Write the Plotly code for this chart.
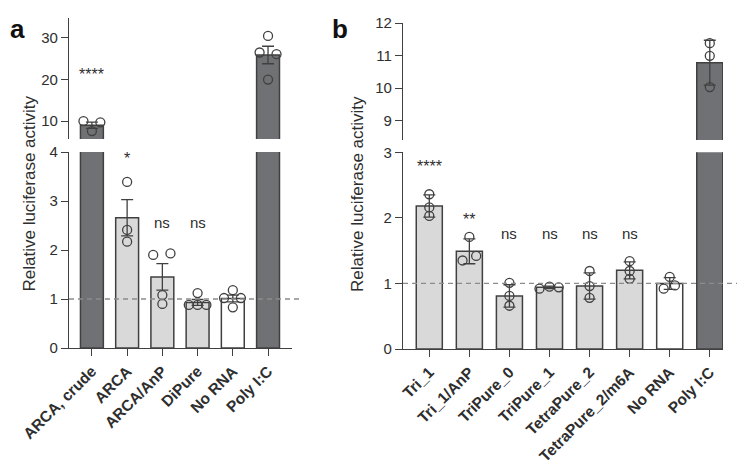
import plotly.graph_objects as go

# ---------------- data ----------------
a_labels = ["ARCA, crude", "ARCA", "ARCA/AnP", "DiPure", "No RNA", "Poly I:C"]
a_means = [9.0, 2.66, 1.45, 0.93, 1.01, 25.9]
a_err = [0.75, 0.37, 0.27, 0.06, 0.07, 2.1]
a_points = [[10.0, 7.6, 9.7], [3.39, 2.41, 2.17], [1.9, 1.93, 1.08, 0.9],
            [0.88, 0.88, 0.88, 1.12], [1.02, 1.02, 1.18, 0.83], [30.5, 26.5, 26.1, 20.0]]
a_jitter = [[-0.24, 0, 0.24], [0, 0, 0], [-0.26, 0.23, 0, 0],
            [-0.25, 0, 0.25, 0], [-0.25, 0.23, 0, 0], [0, -0.24, 0.24, 0]]
a_sig = ["****", "*", "ns", "ns", "", ""]
a_sig_y = [22.1, 3.94, 2.55, 2.55, None, None]

b_labels = ["Tri_1", "Tri_1/AnP", "TriPure_0", "TriPure_1", "TetraPure_2",
            "TetraPure_2/m6A", "No RNA", "Poly I:C"]
b_means = [2.18, 1.49, 0.81, 0.94, 0.96, 1.2, 1.0, 10.78]
b_err = [0.17, 0.19, 0.17, 0.02, 0.2, 0.13, 0.09, 0.69]
b_points = [[2.36, 2.16, 2.03], [1.71, 1.35, 1.42], [1.01, 0.81, 0.66], [0.92, 0.95, 0.94],
            [1.19, 0.96, 0.78], [1.34, 1.19, 1.07], [1.10, 0.92, 0.97], [11.38, 10.99, 10.03]]
b_jitter = [[0, 0, 0], [0, -0.17, 0.17], [0, 0, 0], [-0.25, 0, 0.23],
            [0, 0, 0], [0, 0, 0], [0, -0.15, 0.13], [0, 0, 0]]
b_sig = ["****", "**", "ns", "ns", "ns", "ns", "", ""]
b_sig_y = [2.85, 2.03, 1.75, 1.75, 1.75, 1.75, None, None]

DARK = "#707174"
LIGHT = "#d9d9d9"
WHITE = "#ffffff"
a_colors = [DARK, LIGHT, LIGHT, LIGHT, WHITE, DARK]
b_colors = [LIGHT] * 6 + [WHITE, DARK]

LINE = "#404040"
TXT = "#2e2e2e"
FONT = "Liberation Sans, Arial, sans-serif"

fig = go.Figure()


def add_panel(labels, means, err, points, jitter, colors, xl, yl, xu, yu):
    idx = list(range(len(labels)))
    for xa, ya in [(xl, yl), (xu, yu)]:
        fig.add_trace(go.Bar(
            x=idx, y=means, width=0.65, xaxis=xa, yaxis=ya,
            marker=dict(color=colors, line=dict(color=LINE, width=1.5)),
            error_y=dict(type="data", array=err, color=LINE, thickness=1.3, width=6),
            showlegend=False, hoverinfo="skip"))
        px, py = [], []
        for i, (pts, jit) in enumerate(zip(points, jitter)):
            for v, j in zip(pts, jit):
                px.append(i + j)
                py.append(v)
        fig.add_trace(go.Scatter(
            x=px, y=py, mode="markers", xaxis=xa, yaxis=ya,
            marker=dict(symbol="circle-open", size=9, color=LINE, line=dict(width=1.3)),
            showlegend=False, hoverinfo="skip"))


add_panel(a_labels, a_means, a_err, a_points, a_jitter, a_colors, "x", "y", "x2", "y2")
add_panel(b_labels, b_means, b_err, b_points, b_jitter, b_colors, "x3", "y3", "x4", "y4")

W, H = 737, 469


def px_x(p):
    return p / W


def px_y(p):
    return 1 - p / H


tick_font = dict(family=FONT, size=15, color=TXT)
xtick_font = dict(family=FONT, size=15.5, color=TXT, weight="bold")

yax_common = dict(showline=True, linecolor=LINE, linewidth=1.3, ticks="outside",
                  ticklen=7, tickwidth=1.3, tickcolor=LINE, tickfont=tick_font,
                  showgrid=False, zeroline=False, automargin=False)
xax_common = dict(showline=True, linecolor=LINE, linewidth=1.3, ticks="outside",
                  ticklen=7, tickwidth=1.3, tickcolor=LINE, tickfont=xtick_font,
                  showgrid=False, zeroline=False, tickangle=-45, automargin=False)

a_dom = [px_x(69), px_x(292)]
b_dom = [px_x(403), px_x(723)]

fig.update_layout(
    width=W, height=H, margin=dict(l=0, r=0, t=0, b=0, autoexpand=False), autosize=False,
    plot_bgcolor="white", paper_bgcolor="white",
    font=dict(family=FONT, color=TXT),
    xaxis=dict(domain=a_dom, range=[-0.65, 5.68], anchor="y",
               tickvals=list(range(len(a_labels))), ticktext=a_labels, **xax_common),
    yaxis=dict(domain=[px_y(348), px_y(152)], range=[0, 4], anchor="x",
               tickvals=[0, 1, 2, 3, 4], **yax_common),
    xaxis2=dict(domain=a_dom, range=[-0.65, 5.68], anchor="y2", visible=False,
                automargin=False),
    yaxis2=dict(domain=[px_y(139), px_y(18)], range=[5.7, 34.8], anchor="x2",
                tickvals=[10, 20, 30], **yax_common),
    xaxis3=dict(domain=b_dom, range=[-0.656, 7.33], anchor="y3",
                tickvals=list(range(len(b_labels))), ticktext=b_labels, **xax_common),
    yaxis3=dict(domain=[px_y(349), px_y(152.3)], range=[0, 3], anchor="x3",
                tickvals=[0, 1, 2, 3], **yax_common),
    xaxis4=dict(domain=b_dom, range=[-0.656, 7.33], anchor="y4", visible=False,
                automargin=False),
    yaxis4=dict(domain=[px_y(140), px_y(23)], range=[8.4, 12], anchor="x4",
                tickvals=[9, 10, 11, 12], **yax_common),
)

# dashed reference lines at y = 1
for xr, yr in [("x domain", "y"), ("x3 domain", "y3")]:
    fig.add_shape(type="line", xref=xr, yref=yr, x0=0, x1=1.045, y0=1, y1=1,
                  line=dict(color="#8c8c8c", width=1.3, dash="5px,4px"), layer="above")

# significance labels
for sig, sy, lo_top, xl, yl, yu in [(a_sig, a_sig_y, 4, "x", "y", "y2"),
                                    (b_sig, b_sig_y, 3, "x3", "y3", "y4")]:
    for i, (s, v) in enumerate(zip(sig, sy)):
        if not s:
            continue
        star = "*" in s
        fig.add_annotation(x=i, y=v, xref=xl, yref=(yu if v > lo_top + 0.5 else yl),
                           text=s, showarrow=False,
                           font=dict(family=FONT, size=16 if star else 15, color=TXT),
                           yshift=-4 if star else 1)

# y-axis titles
for xp in [17, 357]:
    fig.add_annotation(x=px_x(xp), y=px_y(194), xref="paper", yref="paper",
                       text="Relative luciferase activity", textangle=-90, showarrow=False,
                       font=dict(family=FONT, size=17, color=TXT))

# panel letters
fig.add_annotation(x=px_x(8), y=px_y(12), xref="paper", yref="paper", text="a",
                   showarrow=False, font=dict(family=FONT, size=26, color="#111", weight="bold"))
fig.add_annotation(x=px_x(340), y=px_y(12), xref="paper", yref="paper", text="b",
                   showarrow=False, font=dict(family=FONT, size=26, color="#111", weight="bold"))

fig.write_html("out.html", config={"displayModeBar": False},
               post_script="document.body.style.margin='0';document.body.style.overflow='hidden';")
